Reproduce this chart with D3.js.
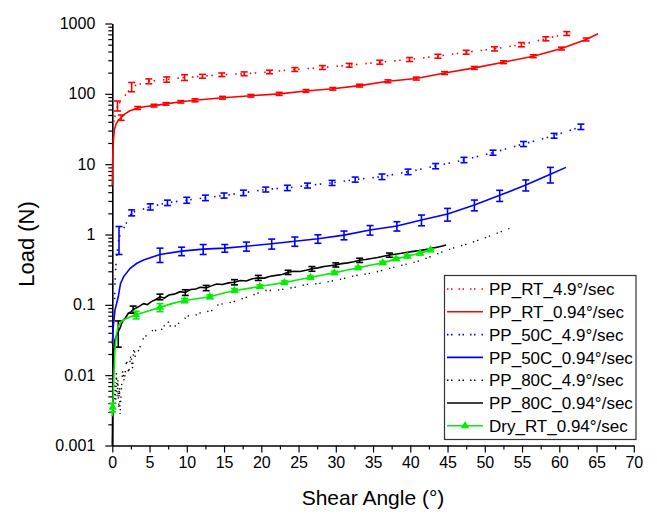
<!DOCTYPE html>
<html>
<head>
<meta charset="utf-8">
<script src="https://cdn.jsdelivr.net/npm/d3@7"></script>
<style>
  body { margin: 0; background: #fff; }
  text { font-family: Arial, "Liberation Sans", sans-serif; fill: #000; }
</style>
</head>
<body>
<svg id="chart" width="657" height="516"></svg>
<script>
// ---- data -------------------------------------------------------------
// PP_RT_4.9°/sec
const rtFastX = [0.2, 0.7, 2.6, 4.9, 7.3, 9.7, 12.1, 14.7, 17.7, 21.1, 24.5, 28.2, 31.8, 35.9, 39.9, 43.7, 47.5, 51.3, 54.9, 58.2, 61, 61.6];
const rtFastY = [40, 68, 126, 151, 160, 171, 178, 187, 193, 205, 222, 237, 255, 282, 308, 343, 391, 437, 501, 607, 721, 735];
const rtFastErr = [null, 11, 19, 12, 14, 16, 11, 11, 12, 12, 14, 15, 16, 18, 20, 22, 25, 30, 35, 40, 45, null];

// PP_RT_0.94°/sec
const rtSlowX = [0, 0.05, 0.15, 0.27, 0.5, 0.8, 1.2, 1.7, 2.3, 3.4, 4.5, 5.6, 7.2, 9.2, 11.1, 14.8, 18.6, 22.4, 26, 29.6, 33.2, 37, 40.8, 44.6, 48.6, 52.5, 56.5, 60.3, 63.6, 65.2];
const rtSlowY = [5, 12, 22, 31, 37, 42, 46, 52, 57, 63, 66, 68, 72, 77, 81, 88, 94, 100, 110, 118, 131, 151, 165, 198, 234, 282, 343, 441, 593, 714];
const rtSlowErr = [null, null, null, null, null, null, 4, null, null, 3, null, 3, 3, 3, 4, 4, 4, 5, 5, 5, 6, 7, 8, 9, 11, 13, 16, 20, 28, null];

// PP_50C_4.9°/sec
const c50FastX = [0.3, 0.4, 0.5, 0.6, 0.9, 2.6, 5.1, 7.4, 10, 12.5, 15, 17.6, 20.6, 23.5, 26.2, 29.5, 32.6, 36.2, 39.7, 43.4, 47.2, 51.1, 55.2, 59.3, 62.9];
const c50FastY = [0.12, 0.25, 0.38, 0.5, 0.91, 2.04, 2.48, 2.83, 3.08, 3.33, 3.59, 3.92, 4.37, 4.61, 4.98, 5.43, 6.05, 6.64, 7.8, 9.4, 11.5, 14.6, 19.4, 25.4, 34.1];
const c50FastErr = [null, null, null, null, 0.39, 0.2, 0.25, 0.25, 0.3, 0.3, 0.3, 0.35, 0.35, 0.4, 0.4, 0.45, 0.5, 0.6, 0.7, 0.8, 1.0, 1.2, 1.6, 2.0, 3.0];

// PP_50C_0.94°/sec
const c50SlowX = [0, 0.13, 0.36, 0.8, 1.1, 1.5, 2.4, 3.3, 4.2, 6.4, 9.3, 12.2, 15.1, 18, 21.4, 24.5, 27.6, 31.1, 34.6, 38.2, 41.5, 45, 48.6, 52, 55.5, 58.8, 60.9];
const c50SlowY = [0.028, 0.049, 0.085, 0.13, 0.2, 0.25, 0.33, 0.39, 0.435, 0.52, 0.58, 0.62, 0.64, 0.68, 0.74, 0.8, 0.87, 0.98, 1.16, 1.32, 1.61, 1.95, 2.63, 3.6, 5.06, 7.2, 9.0];
const c50SlowErr = [null, null, null, null, null, null, null, null, null, 0.12, 0.08, 0.1, 0.08, 0.1, 0.12, 0.12, 0.12, 0.14, 0.18, 0.2, 0.28, 0.4, 0.46, 0.65, 0.9, 1.8, null];

// PP_80C_4.9°/sec
const c80FastX = [0.25, 0.35, 0.45, 0.55, 0.65, 0.75, 0.85, 0.95, 1.05, 1.2, 1.4, 1.6, 1.9, 2.2, 2.5, 2.7, 2.9, 3.1, 3.5, 4.2, 4.8, 5.6, 6.2, 6.8, 7.4, 8.0, 8.6, 9.3, 10.1, 10.8, 11.6, 12.4, 13.2, 14.2, 15.2, 16.2, 17.2, 18.2, 19.4, 20.6, 22, 23.4, 24.8, 26, 27.6, 29.2, 31, 32.6, 34.2, 35.8, 37.2, 38.6, 40, 41.5, 43, 44.4, 46.1, 47.6, 49.8, 51.6, 53.3];
const c80FastY = [0.003, 0.008, 0.004, 0.011, 0.005, 0.009, 0.0035, 0.007, 0.0028, 0.006, 0.012, 0.008, 0.016, 0.011, 0.02, 0.012, 0.025, 0.018, 0.022, 0.034, 0.038, 0.045, 0.04, 0.047, 0.06, 0.045, 0.052, 0.058, 0.07, 0.068, 0.075, 0.082, 0.08, 0.1, 0.105, 0.11, 0.12, 0.13, 0.145, 0.16, 0.16, 0.17, 0.18, 0.195, 0.2, 0.215, 0.235, 0.26, 0.275, 0.3, 0.33, 0.36, 0.39, 0.43, 0.5, 0.57, 0.66, 0.73, 0.88, 1.04, 1.22];

// PP_80C_0.94°/sec
const c80SlowX = [0, 0.03, 0.06, 0.1, 0.13, 0.2, 0.36, 0.55, 0.8, 1.05, 1.3, 1.5, 1.8, 2.15, 2.5, 2.8, 3.2, 3.6, 4.2, 4.7, 5.3, 5.8, 6.4, 7, 7.6, 8.3, 9.1, 9.8, 10.5, 11.2, 11.8, 12.6, 13.3, 14, 14.8, 15.6, 16.4, 17.2, 18, 18.8, 19.6, 20.4, 21.2, 22, 22.8, 23.6, 24.4, 25.2, 26, 26.8, 27.6, 28.4, 29.2, 30, 30.8, 31.6, 32.4, 33.2, 34, 34.8, 35.6, 36.4, 37.2, 38, 38.8, 39.6, 40.4, 41.2, 42, 42.8, 43.6, 44.3, 44.8];
const c80SlowY = [0.001, 0.002, 0.004, 0.009, 0.016, 0.022, 0.032, 0.036, 0.042, 0.047, 0.056, 0.061, 0.066, 0.076, 0.079, 0.086, 0.09, 0.095, 0.104, 0.101, 0.112, 0.118, 0.13, 0.125, 0.138, 0.142, 0.154, 0.15, 0.165, 0.168, 0.178, 0.174, 0.186, 0.198, 0.195, 0.205, 0.21, 0.222, 0.218, 0.235, 0.242, 0.24, 0.255, 0.262, 0.27, 0.29, 0.3, 0.298, 0.31, 0.325, 0.335, 0.35, 0.36, 0.37, 0.385, 0.395, 0.41, 0.43, 0.44, 0.455, 0.47, 0.49, 0.51, 0.525, 0.54, 0.56, 0.575, 0.59, 0.61, 0.635, 0.66, 0.685, 0.71];
const c80SlowErr = [null, null, null, null, null, null, null, null, 0.017, null, null, null, null, null, null, 0.01, null, null, null, null, null, null, 0.012, null, null, null, null, 0.014, null, null, null, 0.015, null, null, null, null, 0.018, null, null, null, 0.02, null, null, null, null, 0.02, null, null, null, 0.025, null, null, null, 0.025, null, null, null, 0.03, null, null, null, null, 0.035, null, null, null, null, null, null, null, null, null, null];

// Dry_RT_0.94°/sec (markers where err is given)
const dryX = [0, 0.05, 0.1, 0.17, 0.23, 0.36, 0.55, 0.8, 1.1, 1.5, 2.2, 3.2, 4.5, 6.4, 8, 9.7, 11.3, 13.1, 14.7, 16.4, 18.1, 19.8, 21.4, 23.1, 24.8, 26.6, 28.2, 29.8, 31.4, 33, 34.6, 36.3, 38.1, 39.6, 41.3, 42.7, 43.2];
const dryY = [0.0026, 0.0035, 0.0045, 0.007, 0.0106, 0.0228, 0.038, 0.049, 0.056, 0.061, 0.066, 0.072, 0.08, 0.092, 0.104, 0.115, 0.122, 0.13, 0.145, 0.16, 0.17, 0.182, 0.195, 0.207, 0.225, 0.245, 0.265, 0.285, 0.31, 0.335, 0.365, 0.395, 0.45, 0.49, 0.54, 0.6, 0.62];
const dryErr = [null, 0.0005, null, null, null, null, null, null, null, null, null, 0.009, null, 0.012, null, 0.008, null, 0.008, null, 0.01, null, 0.01, null, 0.012, null, 0.012, null, 0.015, null, 0.015, null, 0.02, 0.02, 0.02, 0.025, 0.025, null];

const seriesNames = ["PP_RT_4.9°/sec", "PP_RT_0.94°/sec", "PP_50C_4.9°/sec", "PP_50C_0.94°/sec", "PP_80C_4.9°/sec", "PP_80C_0.94°/sec", "Dry_RT_0.94°/sec"];

// axis ticks
const xTickValues = [0, 5, 10, 15, 20, 25, 30, 35, 40, 45, 50, 55, 60, 65, 70];
const xMinorValues = [2.5, 7.5, 12.5, 17.5, 22.5, 27.5, 32.5, 37.5, 42.5, 47.5, 52.5, 57.5, 62.5, 67.5];
const yTickValues = [1000, 100, 10, 1, 0.1, 0.01, 0.001];
const yTickLabels = ["1000", "100", "10", "1", "0.1", "0.01", "0.001"];

// ---- drawing ----------------------------------------------------------
const svg = d3.select("#chart");
svg.append("rect").attr("width", 657).attr("height", 516).attr("fill", "#fff");

const x = d3.scaleLinear().domain([0, 70]).range([112.3, 633.8]);
const y = d3.scaleLog().domain([0.001, 1000]).range([445.5, 23.5]);

const zip = (xs, ys, es) => xs.map((v, i) => ({ x: v, y: ys[i], e: es ? es[i] : null }));

const series = [
  { name: seriesNames[0], color: "#ff0000", dash: "1.5,3.5,1.5,8", data: zip(rtFastX, rtFastY, rtFastErr) },
  { name: seriesNames[1], color: "#ff0000", dash: null, data: zip(rtSlowX, rtSlowY, rtSlowErr) },
  { name: seriesNames[2], color: "#0000ff", dash: "1.5,3.5,1.5,8", data: zip(c50FastX, c50FastY, c50FastErr) },
  { name: seriesNames[3], color: "#0000ff", dash: null, data: zip(c50SlowX, c50SlowY, c50SlowErr) },
  { name: seriesNames[4], color: "#000000", dash: "1.3,3,1.3,7", data: zip(c80FastX, c80FastY, null), thin: true },
  { name: seriesNames[5], color: "#000000", dash: null, data: zip(c80SlowX, c80SlowY, c80SlowErr) },
  { name: seriesNames[6], color: "#00ee00", dash: null, data: zip(dryX, dryY, dryErr), marker: true }
];

// axes
const axisG = svg.append("g");
axisG.append("g").attr("transform", "translate(0,445.5)")
  .call(d3.axisBottom(x).tickValues(xTickValues).tickSize(7).tickSizeOuter(0).tickPadding(4).tickFormat(d3.format("d")));
const xMinor = axisG.append("g").attr("transform", "translate(0,445.5)")
  .call(d3.axisBottom(x).tickValues(xMinorValues).tickSize(4).tickSizeOuter(0).tickFormat(""));
xMinor.select(".domain").remove();

const yMinorValues = [];
yTickValues.slice(1).forEach(dec => { for (let k = 2; k <= 9; k++) yMinorValues.push(dec * k); });
axisG.append("g").attr("transform", "translate(112.3,0)")
  .call(d3.axisLeft(y).tickValues(yTickValues).tickSize(7).tickSizeOuter(0).tickPadding(10)
    .tickFormat((d, i) => yTickLabels[i]));
const yMinor = axisG.append("g").attr("transform", "translate(112.3,0)")
  .call(d3.axisLeft(y).tickValues(yMinorValues).tickSize(4).tickSizeOuter(0).tickFormat(""));
yMinor.select(".domain").remove();

axisG.selectAll(".domain").attr("stroke", "#000").attr("stroke-width", 1.6);
axisG.selectAll(".tick line").attr("stroke", "#000").attr("stroke-width", 1.2);
axisG.selectAll(".tick text").attr("fill", "#000")
  .style("font-family", "Arial, 'Liberation Sans', sans-serif").style("font-size", "16px");

// axis titles
svg.append("text").attr("x", 373).attr("y", 505).attr("text-anchor", "middle")
  .style("font-size", "21px").text("Shear Angle (°)");
svg.append("text").attr("transform", "translate(34,244) rotate(-90)").attr("text-anchor", "middle")
  .style("font-size", "22px").text("Load (N)");

// plot series
const plot = svg.append("g");
const line = d3.line().x(d => x(d.x)).y(d => y(d.y));

series.forEach(s => {
  const g = plot.append("g");
  g.append("path").datum(s.data)
    .attr("d", line)
    .attr("fill", "none")
    .attr("stroke", s.color)
    .attr("stroke-width", s.thin ? 1.4 : 1.6)
    .attr("stroke-dasharray", s.dash);
  const bars = s.data.filter(d => d.e !== null && d.e > 0);
  const eb = g.selectAll(".eb").data(bars).enter().append("g");
  eb.append("line")
    .attr("x1", d => x(d.x)).attr("x2", d => x(d.x))
    .attr("y1", d => y(d.y + d.e)).attr("y2", d => y(Math.max(d.y - d.e, 1e-4)))
    .attr("stroke", s.color).attr("stroke-width", 1.6);
  [1, -1].forEach(sign => {
    eb.append("line")
      .attr("x1", d => x(d.x) - 3.5).attr("x2", d => x(d.x) + 3.5)
      .attr("y1", d => y(d.y + sign * d.e)).attr("y2", d => y(d.y + sign * d.e))
      .attr("stroke", s.color).attr("stroke-width", 1.6);
  });
  if (s.marker) {
    const tri = d3.symbol().type(d3.symbolTriangle).size(30);
    g.selectAll(".mk").data(s.data.filter(d => d.e !== null)).enter().append("path")
      .attr("d", tri)
      .attr("transform", d => `translate(${x(d.x)},${y(d.y)})`)
      .attr("fill", s.color);
  }
});

// legend
const legend = svg.append("g");
legend.append("rect").attr("x", 444.5).attr("y", 275.5).attr("width", 191.5).attr("height", 164)
  .attr("fill", "#fff").attr("stroke", "#333").attr("stroke-width", 1.2);
series.forEach((s, i) => {
  const cy = 289 + i * 22.8;
  legend.append("line").attr("x1", 447).attr("x2", 483).attr("y1", cy).attr("y2", cy)
    .attr("stroke", s.color).attr("stroke-width", 1.6).attr("stroke-dasharray", s.dash ? "1.5,2.5,1.5,6" : null);
  if (s.marker) {
    legend.append("path").attr("d", d3.symbol().type(d3.symbolTriangle).size(30)())
      .attr("transform", `translate(465,${cy})`).attr("fill", s.color);
  }
  legend.append("text").attr("x", 489).attr("y", cy).attr("dy", "0.36em")
    .style("font-size", "17px").text(s.name);
});
</script>
</body>
</html>
